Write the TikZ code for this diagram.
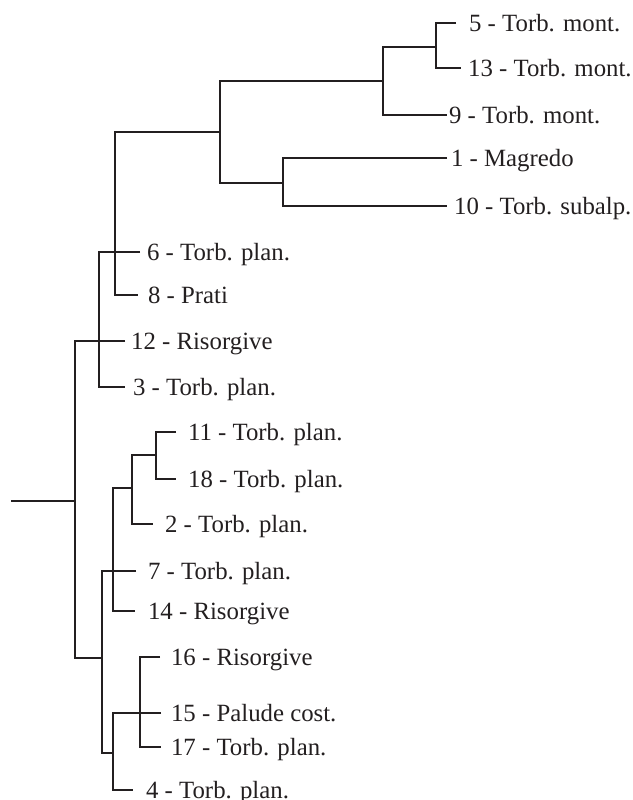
\documentclass[tikz,border=0pt]{standalone}
\usepackage{fontspec}
\setmainfont{Liberation Serif}
\usepackage{tikz}
\definecolor{ink}{HTML}{231F20}

\begin{document}
\begin{tikzpicture}[x=0.5pt,y=-0.5pt,line width=1.1pt,draw=ink,
    lab/.style={anchor=base west,inner sep=0pt,text=ink,font=\fontsize{12.4}{14}\selectfont}]
    \useasboundingbox (0,0) rectangle (633,800);
    % leaf ends
    \coordinate (e5) at (456,23);
    \coordinate (e13) at (461,68);
    \coordinate (e9) at (447,115);
    \coordinate (e1) at (447,158);
    \coordinate (e10) at (447,206);
    \coordinate (e6) at (140,252);
    \coordinate (e8) at (138,295);
    \coordinate (e12) at (125,341);
    \coordinate (e3) at (125,387);
    \coordinate (e11) at (176,432);
    \coordinate (e18) at (176,479);
    \coordinate (e2) at (153,524);
    \coordinate (e7) at (136,571);
    \coordinate (e14) at (135,611);
    \coordinate (e16) at (160,657);
    \coordinate (e15) at (161,713);
    \coordinate (e17) at (161,747);
    \coordinate (e4) at (133,790);
    % joints
    \coordinate (c5) at (436,47);
    \coordinate (c9) at (383,81);
    \coordinate (c1) at (283,183);
    \coordinate (cA) at (220,132);
    \coordinate (cB) at (115,252);
    \coordinate (cC) at (99,341);
    \coordinate (cD) at (75,501);
    \coordinate (root) at (11,501);
    \coordinate (cE) at (102,658);
    \coordinate (cF) at (113,571);
    \coordinate (cH) at (132,488);
    \coordinate (cI) at (156,455);
    \coordinate (cG) at (113,753);
    \coordinate (cJ) at (140,713);
    % labels
    \node at (468,31) [lab] (t5) {5 - Torb. mont.};
    \node at (467,76) [lab] (t13) {13 - Torb. mont.};
    \node at (448,123) [lab] (t9) {9 - Torb. mont.};
    \node at (450,166) [lab] (t1) {1 - Magredo};
    \node at (453,214) [lab] (t10) {10 - Torb. subalp.};
    \node at (146,260) [lab] (t6) {6 - Torb. plan.};
    \node at (147,303) [lab] (t8) {8 - Prati};
    \node at (130,349) [lab] (t12) {12 - Risorgive};
    \node at (132,395) [lab] (t3) {3 - Torb. plan.};
    \node at (187,440) [lab] (t11) {11 - Torb. plan.};
    \node at (187,487) [lab] (t18) {18 - Torb. plan.};
    \node at (164,532) [lab] (t2) {2 - Torb. plan.};
    \node at (147,579) [lab] (t7) {7 - Torb. plan.};
    \node at (147,619) [lab] (t14) {14 - Risorgive};
    \node at (170,665) [lab] (t16) {16 - Risorgive};
    \node at (170,721) [lab] (t15) {15 - Palude cost.};
    \node at (170,755) [lab] (t17) {17 - Torb. plan.};
    \node at (145,798) [lab] (t4) {4 - Torb. plan.};
    % branches
    \draw (e5) -| (c5) |- (e13);
    \draw (c5) -| (c9) |- (e9);
    \draw (e1) -| (c1) |- (e10);
    \draw (c9) -| (cA) |- (c1);
    \draw (cA) -| (cB) |- (e8);
    \draw (e6) -| (cC) |- (e3);
    \draw (e12) -| (cD) |- (cE);
    \draw (root) -- (cD);
    \draw (e11) -| (cI) |- (e18);
    \draw (cI) -| (cH) |- (e2);
    \draw (cH) -| (cF) |- (e14);
    \draw (e7) -| (cE) |- (cG);
    \draw (e16) -| (cJ) |- (e17);
    \draw (e15) -| (cG) |- (e4);
\end{tikzpicture}
\end{document}
